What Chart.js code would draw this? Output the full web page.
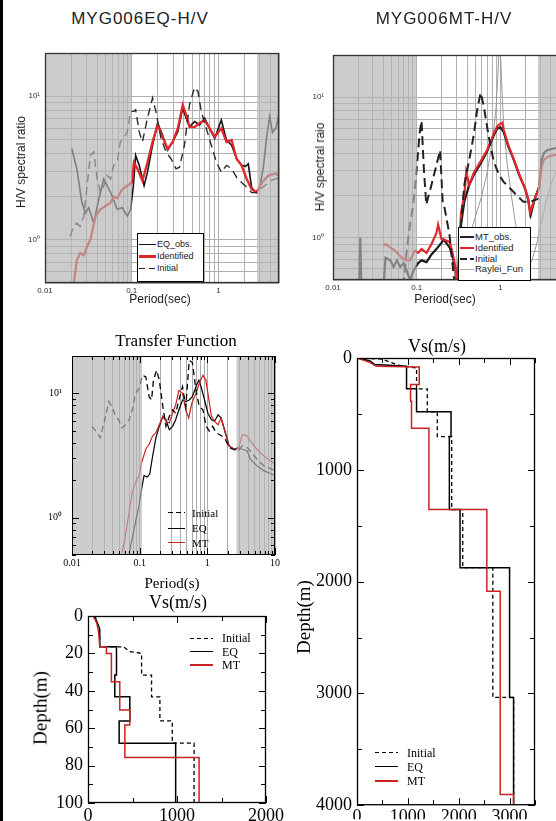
<!DOCTYPE html>
<html><head><meta charset="utf-8">
<script src="https://cdn.jsdelivr.net/npm/chart.js@4.4.1/dist/chart.umd.min.js"></script>
<style>
html,body{margin:0;padding:0;background:#fff;}
body{width:556px;height:821px;overflow:hidden;position:relative;}
canvas{position:absolute;}
.t{position:absolute;white-space:nowrap;transform:translate(-50%,-50%);line-height:1;}
.rot{transform:translate(-50%,-50%) rotate(-90deg);}
.sans{font-family:"Liberation Sans",Arial,sans-serif;color:#222;}
.serif{font-family:"Liberation Serif","Times New Roman",serif;color:#000;}
.ln{position:absolute;}
.lt{position:absolute;white-space:nowrap;line-height:1;transform:translateY(-50%);}
.box{position:absolute;border:1px solid #000;background:#fff;box-sizing:border-box;}
</style></head><body>
<div style="position:absolute;left:0;top:0;width:3px;height:821px;background:#000"></div>
<canvas id="c1" width="300" height="275" style="left:0;top:30px"></canvas>
<canvas id="c2" width="280" height="275" style="left:290px;top:30px"></canvas>
<canvas id="c3" width="300" height="240" style="left:0;top:340px"></canvas>
<canvas id="c4" width="300" height="226" style="left:0;top:595px"></canvas>
<canvas id="c5" width="266" height="486" style="left:290px;top:335px"></canvas>

<div class="t sans" style="left:140px;top:18px;font-size:17px;letter-spacing:1px">MYG006EQ-H/V</div>
<div class="t sans" style="left:444px;top:18px;font-size:17px;letter-spacing:1px">MYG006MT-H/V</div>
<div class="t sans rot" style="left:21px;top:162px;font-size:12px">H/V spectral ratio</div>
<div class="t sans rot" style="left:320px;top:167px;font-size:12px">H/V spectral raio</div>
<div class="t sans" style="left:160px;top:299px;font-size:12px">Period(sec)</div>
<div class="t sans" style="left:445px;top:299px;font-size:12px">Period(sec)</div>

<div class="box" style="left:137px;top:233px;width:67px;height:49px"></div>
<div class="ln" style="left:139px;top:243.5px;width:17px;height:1.6px;background:#111"></div>
<div class="lt sans" style="left:157px;top:244.3px;font-size:9px">EQ_obs.</div>
<div class="ln" style="left:139px;top:255px;width:17px;height:2.6px;background:#e2262b"></div>
<div class="lt sans" style="left:157px;top:256.3px;font-size:9px">Identified</div>
<div class="ln" style="left:139px;top:267.5px;width:17px;height:1.5px;background:repeating-linear-gradient(90deg,#222 0 6px,transparent 6px 10px)"></div>
<div class="lt sans" style="left:157px;top:268.3px;font-size:9px">Initial</div>

<div class="box" style="left:458px;top:227px;width:73px;height:54px"></div>
<div class="ln" style="left:460px;top:235.7px;width:14px;height:2px;background:#222"></div>
<div class="lt sans" style="left:475px;top:236.7px;font-size:9.5px">MT_obs.</div>
<div class="ln" style="left:460px;top:247px;width:14px;height:2px;background:#e2262b"></div>
<div class="lt sans" style="left:475px;top:248px;font-size:9.5px">Identified</div>
<div class="ln" style="left:460px;top:258px;width:14px;height:2px;background:repeating-linear-gradient(90deg,#222 0 7px,transparent 7px 10px)"></div>
<div class="lt sans" style="left:475px;top:259px;font-size:9.5px">Initial</div>
<div class="ln" style="left:460px;top:268.5px;width:14px;height:1px;background:#aaa"></div>
<div class="lt sans" style="left:475px;top:269px;font-size:9.5px">Raylei_Fun</div>

<div class="t serif" style="left:176px;top:340px;font-size:17px">Transfer Function</div>
<div class="t serif" style="left:172px;top:583px;font-size:15px">Period(s)</div>
<div class="ln" style="left:168px;top:512px;width:17px;height:1.3px;background:repeating-linear-gradient(90deg,#000 0 5px,transparent 5px 8px)"></div>
<div class="lt serif" style="left:192px;top:512.7px;font-size:11px">Initial</div>
<div class="ln" style="left:168px;top:527.7px;width:17px;height:1.3px;background:#000"></div>
<div class="lt serif" style="left:192px;top:528.3px;font-size:11px">EQ</div>
<div class="ln" style="left:168px;top:542px;width:17px;height:1.3px;background:#cc2222"></div>
<div class="lt serif" style="left:192px;top:542.7px;font-size:11px">MT</div>

<div class="t serif" style="left:178px;top:602px;font-size:18px">Vs(m/s)</div>
<div class="t serif rot" style="left:40px;top:708px;font-size:19px">Depth(m)</div>
<div class="ln" style="left:190px;top:637.5px;width:23px;height:1.4px;background:repeating-linear-gradient(90deg,#000 0 4px,transparent 4px 7px)"></div>
<div class="lt serif" style="left:222px;top:638.3px;font-size:12px">Initial</div>
<div class="ln" style="left:190px;top:651px;width:23px;height:1.4px;background:#000"></div>
<div class="lt serif" style="left:222px;top:651.7px;font-size:12px">EQ</div>
<div class="ln" style="left:190px;top:664.3px;width:23px;height:1.4px;background:#cc2222"></div>
<div class="lt serif" style="left:222px;top:665px;font-size:12px">MT</div>

<div class="t serif" style="left:437px;top:346px;font-size:18px">Vs(m/s)</div>
<div class="t serif rot" style="left:303px;top:617px;font-size:19px">Depth(m)</div>
<div class="ln" style="left:375px;top:752px;width:23px;height:1.4px;background:repeating-linear-gradient(90deg,#000 0 4px,transparent 4px 7px)"></div>
<div class="lt serif" style="left:407px;top:752.7px;font-size:12px">Initial</div>
<div class="ln" style="left:375px;top:766px;width:23px;height:1.4px;background:#000"></div>
<div class="lt serif" style="left:407px;top:766.7px;font-size:12px">EQ</div>
<div class="ln" style="left:375px;top:780.3px;width:23px;height:1.4px;background:#cc2222"></div>
<div class="lt serif" style="left:407px;top:781px;font-size:12px">MT</div>

<script>
// ---------- Panel 1: MYG006EQ H/V ----------
const hvEqObsP = [0.0204,0.0233,0.0267,0.0292,0.0319,0.0365,0.0417,0.0476,0.0521,0.0596,0.068,0.0778,0.0891,0.0973,0.1045,0.111,0.122,0.139,0.152,0.174,0.199,0.227,0.26,0.297,0.34,0.388,0.425,0.464,0.531,0.607,0.694,0.793,0.906,1.08,1.24,1.42,1.62,1.85,2.05,2.21,2.42,2.7,3.0,3.3,3.6,3.9,4.2,4.6,5.0];
const hvEqObsV = [4.31,3.12,1.81,1.54,1.67,1.31,1.91,2.65,2.38,2.02,1.63,1.67,1.46,1.63,2.38,3.87,3.3,2.38,2.96,4.56,6.49,5.36,4.21,4.81,5.66,8.28,7.03,6.13,6.66,6.31,7.03,5.97,5.08,6.84,4.94,4.56,3.67,3.3,3.25,3.38,2.3,2.15,2.3,3.2,5.2,7.2,5.6,6.0,7.5];
const hvEqIdentP = [0.0214,0.0233,0.0255,0.028,0.0306,0.0334,0.0382,0.0437,0.05,0.057,0.062,0.068,0.0778,0.089,0.101,0.106,0.117,0.133,0.152,0.174,0.199,0.227,0.26,0.297,0.34,0.388,0.425,0.464,0.531,0.607,0.694,0.793,0.906,1.08,1.24,1.42,1.62,1.85,2.12,2.42,2.77,3.16,3.78,4.52,5.0];
const hvEqIdentV = [0.49,0.72,0.81,0.78,0.9,1.0,1.46,1.63,1.72,1.81,2.0,1.95,2.25,2.38,2.51,3.47,3.1,2.58,3.47,4.81,6.31,5.2,4.3,4.81,5.97,8.7,7.4,6.13,6.1,6.5,6.8,5.97,5.2,5.97,4.8,4.95,3.67,3.3,2.65,2.25,2.13,2.5,2.8,2.9,2.8];
const hvEqInitP = [0.0195,0.0214,0.0233,0.0255,0.028,0.0306,0.0334,0.0365,0.040,0.0437,0.0476,0.052,0.057,0.062,0.068,0.074,0.081,0.089,0.097,0.106,0.111,0.122,0.133,0.152,0.174,0.19,0.218,0.249,0.284,0.325,0.356,0.406,0.464,0.531,0.581,0.634,0.725,0.828,0.948,1.08,1.24,1.42,1.62,1.85,2.12,2.42,2.77,3.16,4.13,5.0];
const hvEqInitV = [1.06,1.24,1.31,1.24,1.46,2.38,3.87,4.1,2.65,2.13,2.38,2.8,2.65,3.3,3.47,4.81,5.08,5.66,7.84,7.84,8.05,5.66,4.81,7.03,9.73,7.84,5.08,4.09,3.67,3.12,3.2,4.56,8.73,11.5,10.8,7.84,5.97,4.56,3.47,2.96,3.3,3.12,2.72,2.51,2.32,2.13,2.13,2.3,2.6,2.7];

// ---------- Panel 2: MYG006MT H/V ----------
const hvMtObsP = [0.0205,0.0212,0.0219,0.03,0.040,0.0424,0.0485,0.053,0.058,0.0635,0.0696,0.076,0.083,0.091,0.104,0.114,0.131,0.15,0.172,0.197,0.21,0.248,0.27,0.28,0.29,0.3,0.31,0.338,0.37,0.424,0.48,0.58,0.69,0.8,0.91,1.0,1.09,1.25,1.42,1.67,1.96,2.14,2.3,2.57,2.9,3.1,3.3,3.6,4.2,5.0];
const hvMtObsV = [0.4,1.0,0.4,null,0.45,0.72,0.69,0.62,0.69,0.62,0.66,0.58,0.5,0.58,0.66,0.69,0.67,0.76,0.83,0.92,0.97,0.85,0.72,0.65,0.6,0.45,0.5,1.24,1.81,2.38,2.8,3.38,4.09,5.08,5.97,6.1,5.66,4.4,3.67,2.8,2.25,1.87,1.46,1.9,2.3,3.6,4.0,4.2,4.3,4.4];
const hvMtIdentP = [0.040,0.0424,0.0485,0.055,0.066,0.076,0.083,0.095,0.104,0.114,0.131,0.15,0.172,0.18,0.197,0.21,0.248,0.27,0.29,0.3,0.31,0.338,0.37,0.39,0.424,0.48,0.58,0.69,0.8,0.91,1.0,1.05,1.09,1.25,1.42,1.67,1.96,2.14,2.25,2.57,2.9,3.1,3.3,3.8,4.6,5.0];
const hvMtIdentV = [0.88,0.9,0.85,0.81,0.72,0.69,0.69,0.81,0.78,0.83,0.78,0.9,1.08,1.24,0.98,0.97,0.93,0.76,0.62,0.45,0.5,1.5,2.0,2.96,2.38,2.9,3.5,4.2,5.2,6.2,6.5,6.6,5.9,4.5,3.7,2.85,2.25,1.9,1.5,1.9,2.3,3.2,3.6,3.8,3.9,4.0];
const hvMtInitP = [0.069,0.076,0.083,0.091,0.1,0.108,0.114,0.122,0.13,0.15,0.17,0.19,0.205,0.215,0.246,0.28,0.3,0.32,0.338,0.37,0.424,0.48,0.53,0.58,0.63,0.73,0.83,0.96,1.09,1.3,1.57,1.88,2.25,2.6,2.9];
const hvMtInitV = [0.45,0.81,1.24,1.72,3.1,5.5,6.8,3.0,1.72,2.38,3.2,4.2,1.7,1.63,1.05,0.5,0.4,0.45,1.27,2.38,3.6,5.4,8.3,10.8,8.7,5.1,3.5,2.8,2.5,2.25,2.0,1.8,1.8,1.86,1.9];
const hvRayleiP = [0.3,0.35,0.42,0.5,0.6,0.7,0.8,0.88,0.93,0.97,1.01,1.05,1.1,1.2,1.35,1.5,1.7,1.9,2.1,2.4,2.7,3.0,3.5,4.2,5.0];
const hvRayleiV = [0.45,0.7,1.0,1.4,2.0,3.0,4.8,8,14,25,18,10,6,3.4,2.0,1.3,0.85,0.65,0.6,0.7,0.9,1.2,1.8,2.6,3.3];

// ---------- Panel 3: Transfer Function ----------
const tfInitP = [0.0198,0.0234,0.0264,0.028,0.0313,0.035,0.039,0.044,0.049,0.055,0.062,0.07,0.078,0.087,0.098,0.11,0.123,0.138,0.15,0.16,0.178,0.195,0.22,0.245,0.274,0.307,0.34,0.38,0.43,0.48,0.54,0.6,0.68,0.76,0.86,0.96,1.07,1.2,1.35,1.5,1.8,2.1,2.4,2.85,3.3,3.9,4.3,5.4,6.8,10];
const tfInitV = [5.43,4.82,4.4,5.1,6.53,8.6,7.84,6.53,6.14,5.27,5.6,6.14,7.38,10,10.96,14,13.6,9.4,8.85,12.8,15.3,12.8,7.84,5.43,6.53,7.38,6.93,8.85,11.3,7.84,18.4,17.8,10.6,7.84,7.38,5.43,4.97,5.43,4.82,4.67,4.4,3.66,3.55,3.44,3.78,3.66,3.44,2.96,2.62,2.39];
const tfEqP = [0.07,0.078,0.087,0.098,0.107,0.116,0.13,0.141,0.155,0.174,0.195,0.22,0.245,0.274,0.307,0.34,0.38,0.43,0.48,0.54,0.6,0.68,0.75,0.81,0.91,1.02,1.15,1.28,1.44,1.6,1.8,2.1,2.5,2.85,3.3,3.9,4.3,5.4,6.8,10];
const tfEqV = [0.52,0.69,0.93,1.26,1.71,2.18,2.12,2.25,3.1,4.4,5.43,6.53,6.14,5.11,5.43,6.14,7.38,8.85,8.6,8.85,9.4,11.3,12.8,11.3,8.85,6.93,6.14,5.96,6.73,6.33,5.11,3.77,3.55,3.66,3.55,3.44,2.96,2.62,2.39,2.18];
const tfMtP = [0.055,0.062,0.07,0.078,0.087,0.098,0.107,0.123,0.138,0.155,0.174,0.195,0.22,0.245,0.274,0.307,0.34,0.38,0.43,0.48,0.53,0.59,0.68,0.76,0.86,0.95,1.02,1.15,1.28,1.44,1.6,1.8,2.1,2.5,2.85,3.3,3.9,4.3,5.4,6.8,10];
const tfMtV = [0.52,0.73,1.12,1.61,1.93,2.18,2.78,3.55,3.89,4.53,4.82,5.6,6.53,5.96,5.78,6.93,8.07,10.6,10,7.38,6.34,8.33,10,12,14,12.8,10,6.53,5.96,5.6,6.33,4.97,3.77,3.55,3.55,4.67,4.53,4.14,3.55,3.14,2.7];

// ---------- Panel 4: shallow Vs profile (m/s vs depth m) ----------
const vsShallowEqVs = [60,100,132,132,320,320,301,301,470,470,350,350,985,985];
const vsShallowEqDepth = [0,3,7,16.5,16.5,31.6,31.6,43.2,43.2,56.1,56.1,68,68,100];
const vsShallowMtVs = [60,100,120,132,207,207,263,263,357,357,470,470,414,414,1248,1248];
const vsShallowMtDepth = [0,4,9,16.5,16.5,20,20,35.2,35.2,50.3,50.3,58.3,58.3,75.7,75.7,100];
const vsShallowInitVs = [80,110,132,132,400,470,602,602,714,714,808,808,947,947,1192,1192];
const vsShallowInitDepth = [0,5,10,16.5,16.5,19,20,31.6,31.6,43.2,43.2,56.1,56.1,68,68,100];

// ---------- Panel 5: deep Vs profile ----------
const vsDeepEqVs = [0,250,349,974,974,1171,1171,1849,1849,1816,1816,2026,2026,3000,3000,3079,3079];
const vsDeepEqDepth = [0,24,59,74,276,276,481,481,703,703,1356,1356,1875,1875,3036,3036,4000];
const vsDeepMtVs = [0,250,382,1224,1224,1053,1053,1072,1072,1414,1414,2553,2553,2816,2816,3079,3079];
const vsDeepMtDepth = [0,39,74,80,237,237,386,386,629,629,1356,1356,2086,2086,3904,3904,4000];
const vsDeepInitVs = [0,480,842,1171,1171,1382,1382,1579,1579,1862,1862,2079,2079,2671,2671,3079,3079];
const vsDeepInitDepth = [0,9,68,89,276,276,481,481,703,703,1356,1356,1875,1875,3036,3036,4000];

// ---------- Ticks / labels / shaded period bands ----------
const hvXTicks = [0.01,0.02,0.03,0.04,0.05,0.06,0.07,0.08,0.09,0.1,0.2,0.3,0.4,0.5,0.6,0.7,0.8,0.9,1,2,3,4,5];
const hvXLabelValues = [0.01,0.1,1];
const hvXLabelTexts = ['0.01','0.1','1'];
const ratioYTicks = [0.5,0.6,0.7,0.8,0.9,1,2,3,4,5,6,7,8,9,10,20];
const ratioYLabelValues = [1,10];
const ratioYLabelTexts = ['10\u2070','10\u00b9'];
const tfXTicks = [0.01,0.02,0.03,0.04,0.05,0.06,0.07,0.08,0.09,0.1,0.2,0.3,0.4,0.5,0.6,0.7,0.8,0.9,1,2,3,4,5,6,7,8,9,10];
const tfXLabelValues = [0.01,0.1,1,10];
const tfXLabelTexts = ['0.01','0.1','1','10'];
const vsShallowXTicks = [0,500,1000,1500,2000];
const vsShallowXLabels = [0,1000,2000];
const vsShallowYTicks = [0,10,20,30,40,50,60,70,80,90,100];
const vsShallowYLabels = [0,20,40,60,80,100];
const vsDeepXTicks = [0,500,1000,1500,2000,2500,3000,3500];
const vsDeepXLabels = [0,1000,2000,3000];
const vsDeepYTicks = [0,500,1000,1500,2000,2500,3000,3500,4000];
const vsDeepYLabels = [0,1000,2000,3000,4000];
const hvEqShade = [[0.01,0.1],[2.8,5]];
const hvMtShade = [[0.01,0.1],[2.8,5]];
const tfShade = [[0.01,0.108],[2.7,10]];

// ---------- plugins ----------
const shadePlugin = {
  id:'shade',
  afterDatasetsDraw(chart, args, o){
    if(!o || !o.ranges) return;
    const {ctx, chartArea:a, scales:{x}} = chart;
    ctx.save();
    ctx.fillStyle = o.color;
    o.ranges.forEach(r=>{
      const x1 = x.getPixelForValue(r[0]), x2 = x.getPixelForValue(r[1]);
      ctx.fillRect(x1, a.top, x2-x1, a.bottom-a.top);
    });
    ctx.restore();
  }
};
const framePlugin = {
  id:'frame',
  afterDraw(chart, args, o){
    if(!o || !o.show) return;
    const {ctx, chartArea:a, scales} = chart;
    ctx.save();
    ctx.strokeStyle = o.color; ctx.lineWidth = o.width;
    if(o.ticks){
      ctx.lineWidth = 1;
      ctx.beginPath();
      scales.x.ticks.forEach(t=>{
        const px = Math.round(scales.x.getPixelForValue(t.value))+0.5;
        const L = t.label ? o.major : o.minor;
        ctx.moveTo(px,a.bottom); ctx.lineTo(px,a.bottom-L);
        ctx.moveTo(px,a.top); ctx.lineTo(px,a.top+L);
      });
      scales.y.ticks.forEach(t=>{
        const py = Math.round(scales.y.getPixelForValue(t.value))+0.5;
        const L = t.label ? o.major : o.minor;
        ctx.moveTo(a.left,py); ctx.lineTo(a.left+L,py);
        ctx.moveTo(a.right,py); ctx.lineTo(a.right-L,py);
      });
      ctx.stroke();
      ctx.lineWidth = o.width;
    }
    ctx.strokeRect(a.left+0.5, a.top+0.5, a.right-a.left-1, a.bottom-a.top-1);
    ctx.restore();
  }
};
Chart.register(shadePlugin, framePlugin);

function labelCb(values, texts){
  return function(v){
    for(let i=0;i<values.length;i++){
      if(Math.abs(values[i]-v) <= Math.max(Math.abs(values[i]),1e-9)*1e-6) return texts ? texts[i] : String(values[i]);
    }
    return '';
  };
}
function axis(o){
  return {
    type:o.type, min:o.min, max:o.max, reverse:!!o.reverse, position:o.position,
    afterBuildTicks:s=>{ s.ticks = o.ticks.map(v=>({value:v})); },
    afterFit:s=>{ if(o.position==='left') s.width=o.size; else s.height=o.size; },
    grid:{display:!!o.grid, color:o.gridColor||'#aaa', lineWidth:1, drawTicks:false},
    border:{display:false},
    ticks:{autoSkip:false, maxRotation:0, minRotation:0, padding:o.pad, color:o.color||'#000',
      font:{family:o.font, size:o.fs}, callback:labelCb(o.labelValues, o.labelTexts)}
  };
}
function ds(xs, ys, color, width, dash){
  return {data:xs.map((x,i)=>({x:x, y:ys[i]})), showLine:true, borderColor:color, borderWidth:width,
    borderDash:dash||[], pointRadius:0, pointHoverRadius:0, fill:false, tension:0, spanGaps:false};
}
function make(id, datasets, scales, padding, plugins){
  return new Chart(document.getElementById(id), {
    type:'scatter', data:{datasets},
    options:{responsive:false, maintainAspectRatio:false, animation:false, devicePixelRatio:1, events:[],
      layout:{padding}, plugins:Object.assign({legend:{display:false}, tooltip:{enabled:false}}, plugins), scales}
  });
}
const SANS = '"Liberation Sans", Arial, sans-serif';
const SERIF = '"Liberation Serif", "Times New Roman", serif';
const SHADE = 'rgba(180,180,180,0.68)';
const RED1 = '#e2262b', RED2 = '#cc2222';

// Panel 1
make('c1', [
  ds(hvEqInitP, hvEqInitV, '#2a2a2a', 1.4, [8,5]),
  ds(hvEqIdentP, hvEqIdentV, RED1, 2.3),
  ds(hvEqObsP, hvEqObsV, '#111', 1.6)
], {
  x: axis({type:'logarithmic', min:0.01, max:5, position:'bottom', ticks:hvXTicks, size:14, grid:true, gridColor:'#b0b0b0', pad:3, color:'#333', font:SANS, fs:8, labelValues:hvXLabelValues, labelTexts:hvXLabelTexts}),
  y: axis({type:'logarithmic', min:0.5, max:20, position:'left', ticks:ratioYTicks, size:45, grid:true, gridColor:'#b0b0b0', pad:5, color:'#333', font:SANS, fs:8, labelValues:ratioYLabelValues, labelTexts:ratioYLabelTexts})
}, {left:0, top:23, right:21, bottom:8}, {
  shade:{ranges:hvEqShade, color:SHADE}, frame:{show:true, color:'#333', width:1.3}
});

// Panel 2
make('c2', [
  ds(hvMtInitP, hvMtInitV, '#222', 2, [9,5]),
  ds(hvMtIdentP, hvMtIdentV, RED1, 2.2),
  ds(hvMtObsP, hvMtObsV, '#1a1a1a', 2.2),
  ds(hvRayleiP, hvRayleiV, '#999', 1)
], {
  x: axis({type:'logarithmic', min:0.01, max:5, position:'bottom', ticks:hvXTicks, size:14, grid:true, gridColor:'#b0b0b0', pad:3, color:'#333', font:SANS, fs:8, labelValues:hvXLabelValues, labelTexts:hvXLabelTexts}),
  y: axis({type:'logarithmic', min:0.5, max:20, position:'left', ticks:ratioYTicks, size:43, grid:true, gridColor:'#b0b0b0', pad:9, color:'#333', font:SANS, fs:8, labelValues:ratioYLabelValues, labelTexts:ratioYLabelTexts})
}, {left:0, top:25, right:11, bottom:11}, {
  shade:{ranges:hvMtShade, color:SHADE}, frame:{show:true, color:'#333', width:1.3}
});

// Panel 3
make('c3', [
  ds(tfInitP, tfInitV, '#000', 1.3, [6,4]),
  ds(tfMtP, tfMtV, RED2, 1.2),
  ds(tfEqP, tfEqV, '#000', 1.2)
], {
  x: axis({type:'logarithmic', min:0.01, max:10, position:'bottom', ticks:tfXTicks, size:14, grid:true, gridColor:'#aaa', pad:2, font:SERIF, fs:10, labelValues:tfXLabelValues, labelTexts:tfXLabelTexts}),
  y: axis({type:'logarithmic', min:0.5, max:20, position:'left', ticks:ratioYTicks, size:72, grid:false, pad:10, font:SERIF, fs:10, labelValues:ratioYLabelValues, labelTexts:ratioYLabelTexts})
}, {left:0, top:15, right:25, bottom:11}, {
  shade:{ranges:tfShade, color:SHADE}, frame:{show:true, color:'#000', width:1, ticks:true, major:7, minor:4}
});

// Panel 4
make('c4', [
  ds(vsShallowMtVs, vsShallowMtDepth, RED2, 1.5),
  ds(vsShallowEqVs, vsShallowEqDepth, '#000', 1.5),
  ds(vsShallowInitVs, vsShallowInitDepth, '#000', 1.3, [4,3])
], {
  x: axis({type:'linear', min:0, max:2000, position:'bottom', ticks:vsShallowXTicks, size:18, grid:false, pad:2, font:SERIF, fs:18, labelValues:vsShallowXLabels}),
  y: axis({type:'linear', min:0, max:100, reverse:true, position:'left', ticks:vsShallowYTicks, size:88, grid:false, pad:5, font:SERIF, fs:18, labelValues:vsShallowYLabels})
}, {left:0, top:21, right:34, bottom:0}, {
  frame:{show:true, color:'#000', width:1.3, ticks:true, major:7, minor:5}
});

// Panel 5
make('c5', [
  ds(vsDeepMtVs, vsDeepMtDepth, RED2, 1.5),
  ds(vsDeepEqVs, vsDeepEqDepth, '#000', 1.5),
  ds(vsDeepInitVs, vsDeepInitDepth, '#000', 1.3, [4,3])
], {
  x: axis({type:'linear', min:0, max:3500, position:'bottom', ticks:vsDeepXTicks, size:14, grid:false, pad:1, font:SERIF, fs:18, labelValues:vsDeepXLabels}),
  y: axis({type:'linear', min:0, max:4000, reverse:true, position:'left', ticks:vsDeepYTicks, size:67, grid:false, pad:5, font:SERIF, fs:18, labelValues:vsDeepYLabels})
}, {left:0, top:23, right:21, bottom:0}, {
  frame:{show:true, color:'#000', width:1.3, ticks:true, major:7, minor:5}
});
</script>
</body></html>
